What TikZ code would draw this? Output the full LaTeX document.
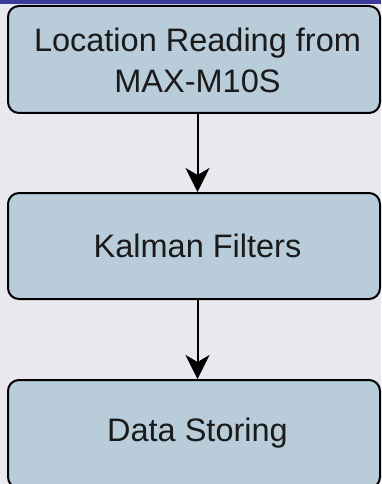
\documentclass[tikz,border=0pt]{standalone}
\usepackage{fontspec}
\setmainfont{Liberation Sans}
\usetikzlibrary{arrows.meta}
\definecolor{pagebg}{HTML}{E8E8EE}
\definecolor{bandblue}{HTML}{3A3A9A}
\definecolor{boxfill}{HTML}{B8CCDA}
\definecolor{inkdark}{HTML}{1A1A1A}
\tikzset{
  stagebox/.style={draw=black, line width=2pt, rounded corners=11pt, fill=boxfill,
    minimum width=372pt, inner sep=0pt},
  stagetext/.style={text=inkdark, align=center, inner sep=0pt,
    font=\fontsize{32.5}{41}\selectfont},
  flow/.style={draw=black, line width=2pt,
    -{Stealth[length=24pt, width=24pt, inset=7pt]}}
}
\begin{document}
\begin{tikzpicture}[x=1pt, y=-1pt]
  \useasboundingbox (0,0) rectangle (381,484);
  \clip (0,0) rectangle (381,484);
  % page background and top band
  \fill[pagebg] (0,0) rectangle (381,484);
  \fill[bandblue] (0,0) rectangle (381,4.5);

  % processing stages
  \node[stagebox, minimum height=107pt] (b1) at (194,59.5) {};
  \node[stagebox, minimum height=106pt] (b2) at (194,246) {};
  \node[stagebox, minimum height=108pt] (b3) at (194,434) {};

  \node[stagetext] (t1) at (197.5,60) {Location Reading from\\MAX-M10S};
  \node[stagetext] (t2) at (197.5,246) {Kalman Filters};
  \node[stagetext] (t3) at (197.5,433) {Data Storing};

  % flow between stages
  \draw[flow] (b1.south -| t1) -- (b2.north -| t1);
  \draw[flow] (b2.south -| t2) -- (b3.north -| t2);
\end{tikzpicture}
\end{document}
